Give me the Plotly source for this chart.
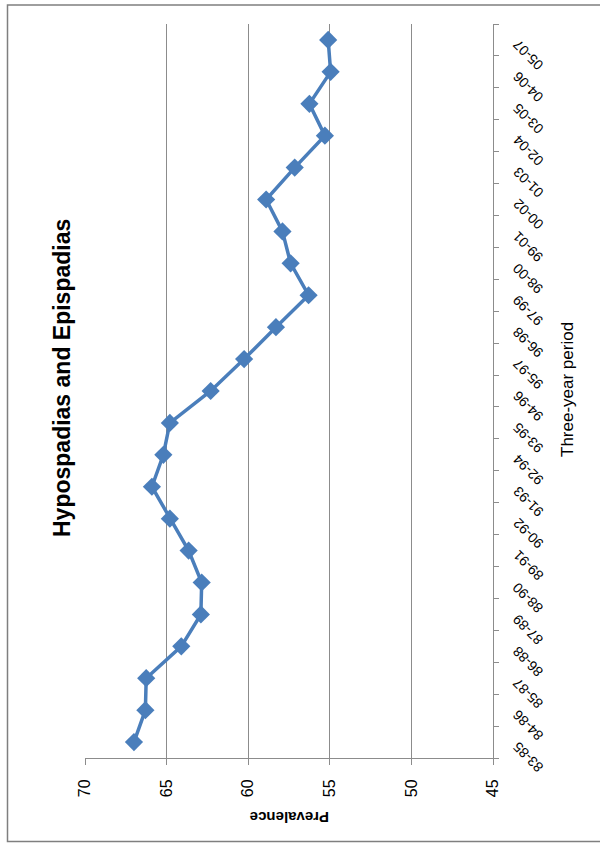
import plotly.graph_objects as go

# Three-year periods and prevalence values
periods = ["83-85", "84-86", "85-87", "86-88", "87-89", "88-90", "89-91", "90-92",
           "91-93", "92-94", "93-95", "94-96", "95-97", "96-98", "97-99", "98-00",
           "99-01", "00-02", "01-03", "02-04", "03-05", "04-06", "05-07"]
prevalence = [67.0, 66.3, 66.25, 64.1, 62.9, 62.85, 63.65, 64.8,
              65.9, 65.2, 64.8, 62.3, 60.25, 58.3, 56.3, 57.4,
              57.9, 58.9, 57.15, 55.3, 56.25, 54.95, 55.1]
value_ticks = [70, 65, 60, 55, 50, 45]

W, H = 600, 843
ML, MR, MT, MB = 85, 107, 24, 85
PW, PH = W - ML - MR, H - MT - MB


def px_x(p):
    return (p - ML) / PW


def px_y(p):
    return 1 - (p - MT) / PH


BLUE = "#4A7EBB"
GRID = "#8C8C8C"
FONT = "Liberation Sans, Arial, sans-serif"

fig = go.Figure()
fig.add_trace(go.Scatter(
    x=prevalence, y=periods, mode="lines+markers",
    line=dict(color=BLUE, width=3.5),
    marker=dict(symbol="diamond", size=14, color=BLUE),
    showlegend=False,
))

# Period labels, slanted and set beside the right-hand category axis
period_labels = [
    dict(text=p, x=px_x(528), xref="paper", y=p, yref="y", yshift=-15,
         textangle=-135, showarrow=False, xanchor="center", yanchor="middle",
         font=dict(family=FONT, size=14, color="black"))
    for p in periods
]

fig.update_layout(
    width=W, height=H,
    margin=dict(l=ML, r=MR, t=MT, b=MB),
    plot_bgcolor="white", paper_bgcolor="white",
    xaxis=dict(
        range=[70, 45], tickvals=value_ticks, ticktext=[str(v) for v in value_ticks],
        showgrid=True, gridcolor=GRID, gridwidth=1,
        showline=True, linecolor=GRID, linewidth=1,
        ticks="outside", ticklen=6, tickcolor=GRID,
        tickangle=-90, ticklabelstandoff=8,
        tickfont=dict(family=FONT, size=16, color="black"),
        zeroline=False,
    ),
    yaxis=dict(
        type="category", categoryorder="array", categoryarray=periods,
        range=[-0.5, len(periods) - 0.5], side="right",
        tickson="boundaries", showgrid=False,
        showline=True, linecolor=GRID, linewidth=1,
        ticks="outside", ticklen=5, tickcolor=GRID,
        showticklabels=False, zeroline=False,
    ),
    annotations=period_labels + [
        dict(text="<b>Hypospadias and Epispadias</b>", textangle=-90,
             xref="paper", yref="paper", x=px_x(62), y=px_y(378),
             showarrow=False, xanchor="center", yanchor="middle",
             font=dict(family=FONT, size=23, color="black")),
        dict(text="<b>Prevalence</b>", textangle=180,
             xref="paper", yref="paper", x=px_x(290), y=px_y(818),
             showarrow=False, xanchor="center", yanchor="middle",
             font=dict(family=FONT, size=15, color="black")),
        dict(text="Three-year period", textangle=-90,
             xref="paper", yref="paper", x=px_x(568), y=px_y(390),
             showarrow=False, xanchor="center", yanchor="middle",
             font=dict(family=FONT, size=17, color="black")),
    ],
    shapes=[
        dict(type="rect", xref="paper", yref="paper",
             x0=px_x(7.5), x1=px_x(610), y0=px_y(841.5), y1=px_y(5),
             line=dict(color="#7F7F7F", width=1.5), layer="below"),
    ],
)

fig.write_html("out.html")
